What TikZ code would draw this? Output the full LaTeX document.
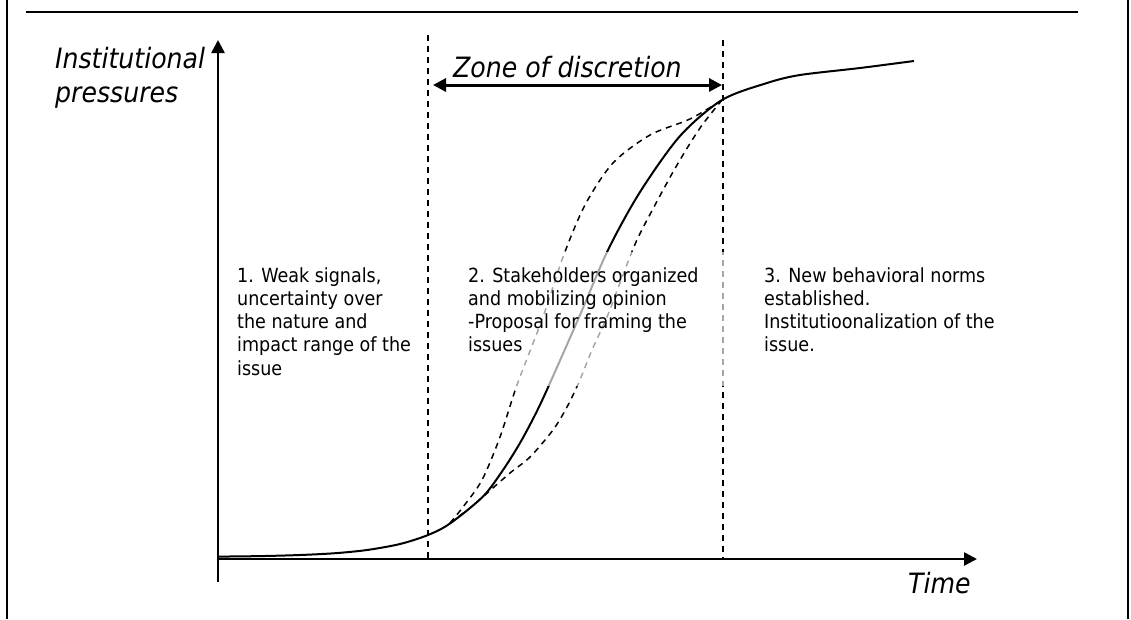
\documentclass[tikz,border=0pt]{standalone}
\usepackage{fontspec}
\setmainfont{DejaVu Sans Condensed}
\usetikzlibrary{arrows.meta}
\begin{document}
\begin{tikzpicture}[x=1pt,y=-1pt,
        tip/.style={-{Triangle[length=13pt,width=13pt]}},
        guide/.style={dash pattern=on 6pt off 5pt,line width=1.5pt},
        stage/.style={anchor=north west,align=left,inner sep=0pt,font=\fontsize{19.5}{23.3}\selectfont},
        title/.style={inner sep=0pt,font=\fontsize{28}{34}\selectfont\itshape}]
                \useasboundingbox (0,0) rectangle (1131,619);
                \draw[line width=2pt] (7,0) -- (7,619);
                \draw[line width=2pt] (26,12) -- (1078,12);
                \draw[line width=1.5pt] (1128,0) -- (1128,619);
                \foreach \x/\t in {428/35,723/40} {
                    \draw[guide] (\x,\t) -- (\x,559);
                }
                \draw[line width=2.5pt,tip] (218,582) -- (218,40);
                \draw[line width=2.5pt,tip] (218,559) -- (977,559);
                \draw[line width=3pt,{Triangle[length=13pt,width=13pt]}-{Triangle[length=13pt,width=13pt]}] (433,85) -- (722,85);
                \draw[line width=2pt] plot[smooth,tension=0.5] coordinates {(218,556.6) (260,556.1) (300,555) (335,553.2) (367,550) (400,544) (428,535) (450,523.5) (483,496.5) (503,470) (520,443) (536,413) (550,383) (580,315) (608,250) (640,192) (680,136) (722,100) (767,83) (800,75) (860,68) (914,61)};
                \draw[guide] plot[smooth,tension=0.5] coordinates {(450,523) (463,507) (482,480) (500,437) (517,385) (543,317) (563,257) (585,205) (613,163) (650,135) (690,119) (722,100)};
                \draw[guide] plot[smooth,tension=0.5] coordinates {(450,523) (470,508) (485,495) (510,473) (530,457) (553,430) (567,407) (579,382) (592,350) (607,317) (620,283) (636,242) (655,205) (677,165) (700,128) (722,100)};
                \fill[white,opacity=0.65] (462,252) rectangle (728,386);
                \node[title,anchor=north west,align=left] (pressure) at (55,47) {Institutional\\pressures};
                \node[title,anchor=base west] (zone) at (453,77) {Zone of discretion};
                \node[title,anchor=base west] (time) at (908,593) {Time};
                \node[stage] (weak) at (237,267) {1. Weak signals,\\uncertainty over\\the nature and\\impact range of the\\issue};
                \node[stage] (mobilize) at (468,267) {2. Stakeholders organized\\and mobilizing opinion\\-Proposal for framing the\\issues};
                \node[stage] (norms) at (764,267) {3. New behavioral norms\\established.\\Institutioonalization of the\\issue.};
            \end{tikzpicture}
\end{document}
